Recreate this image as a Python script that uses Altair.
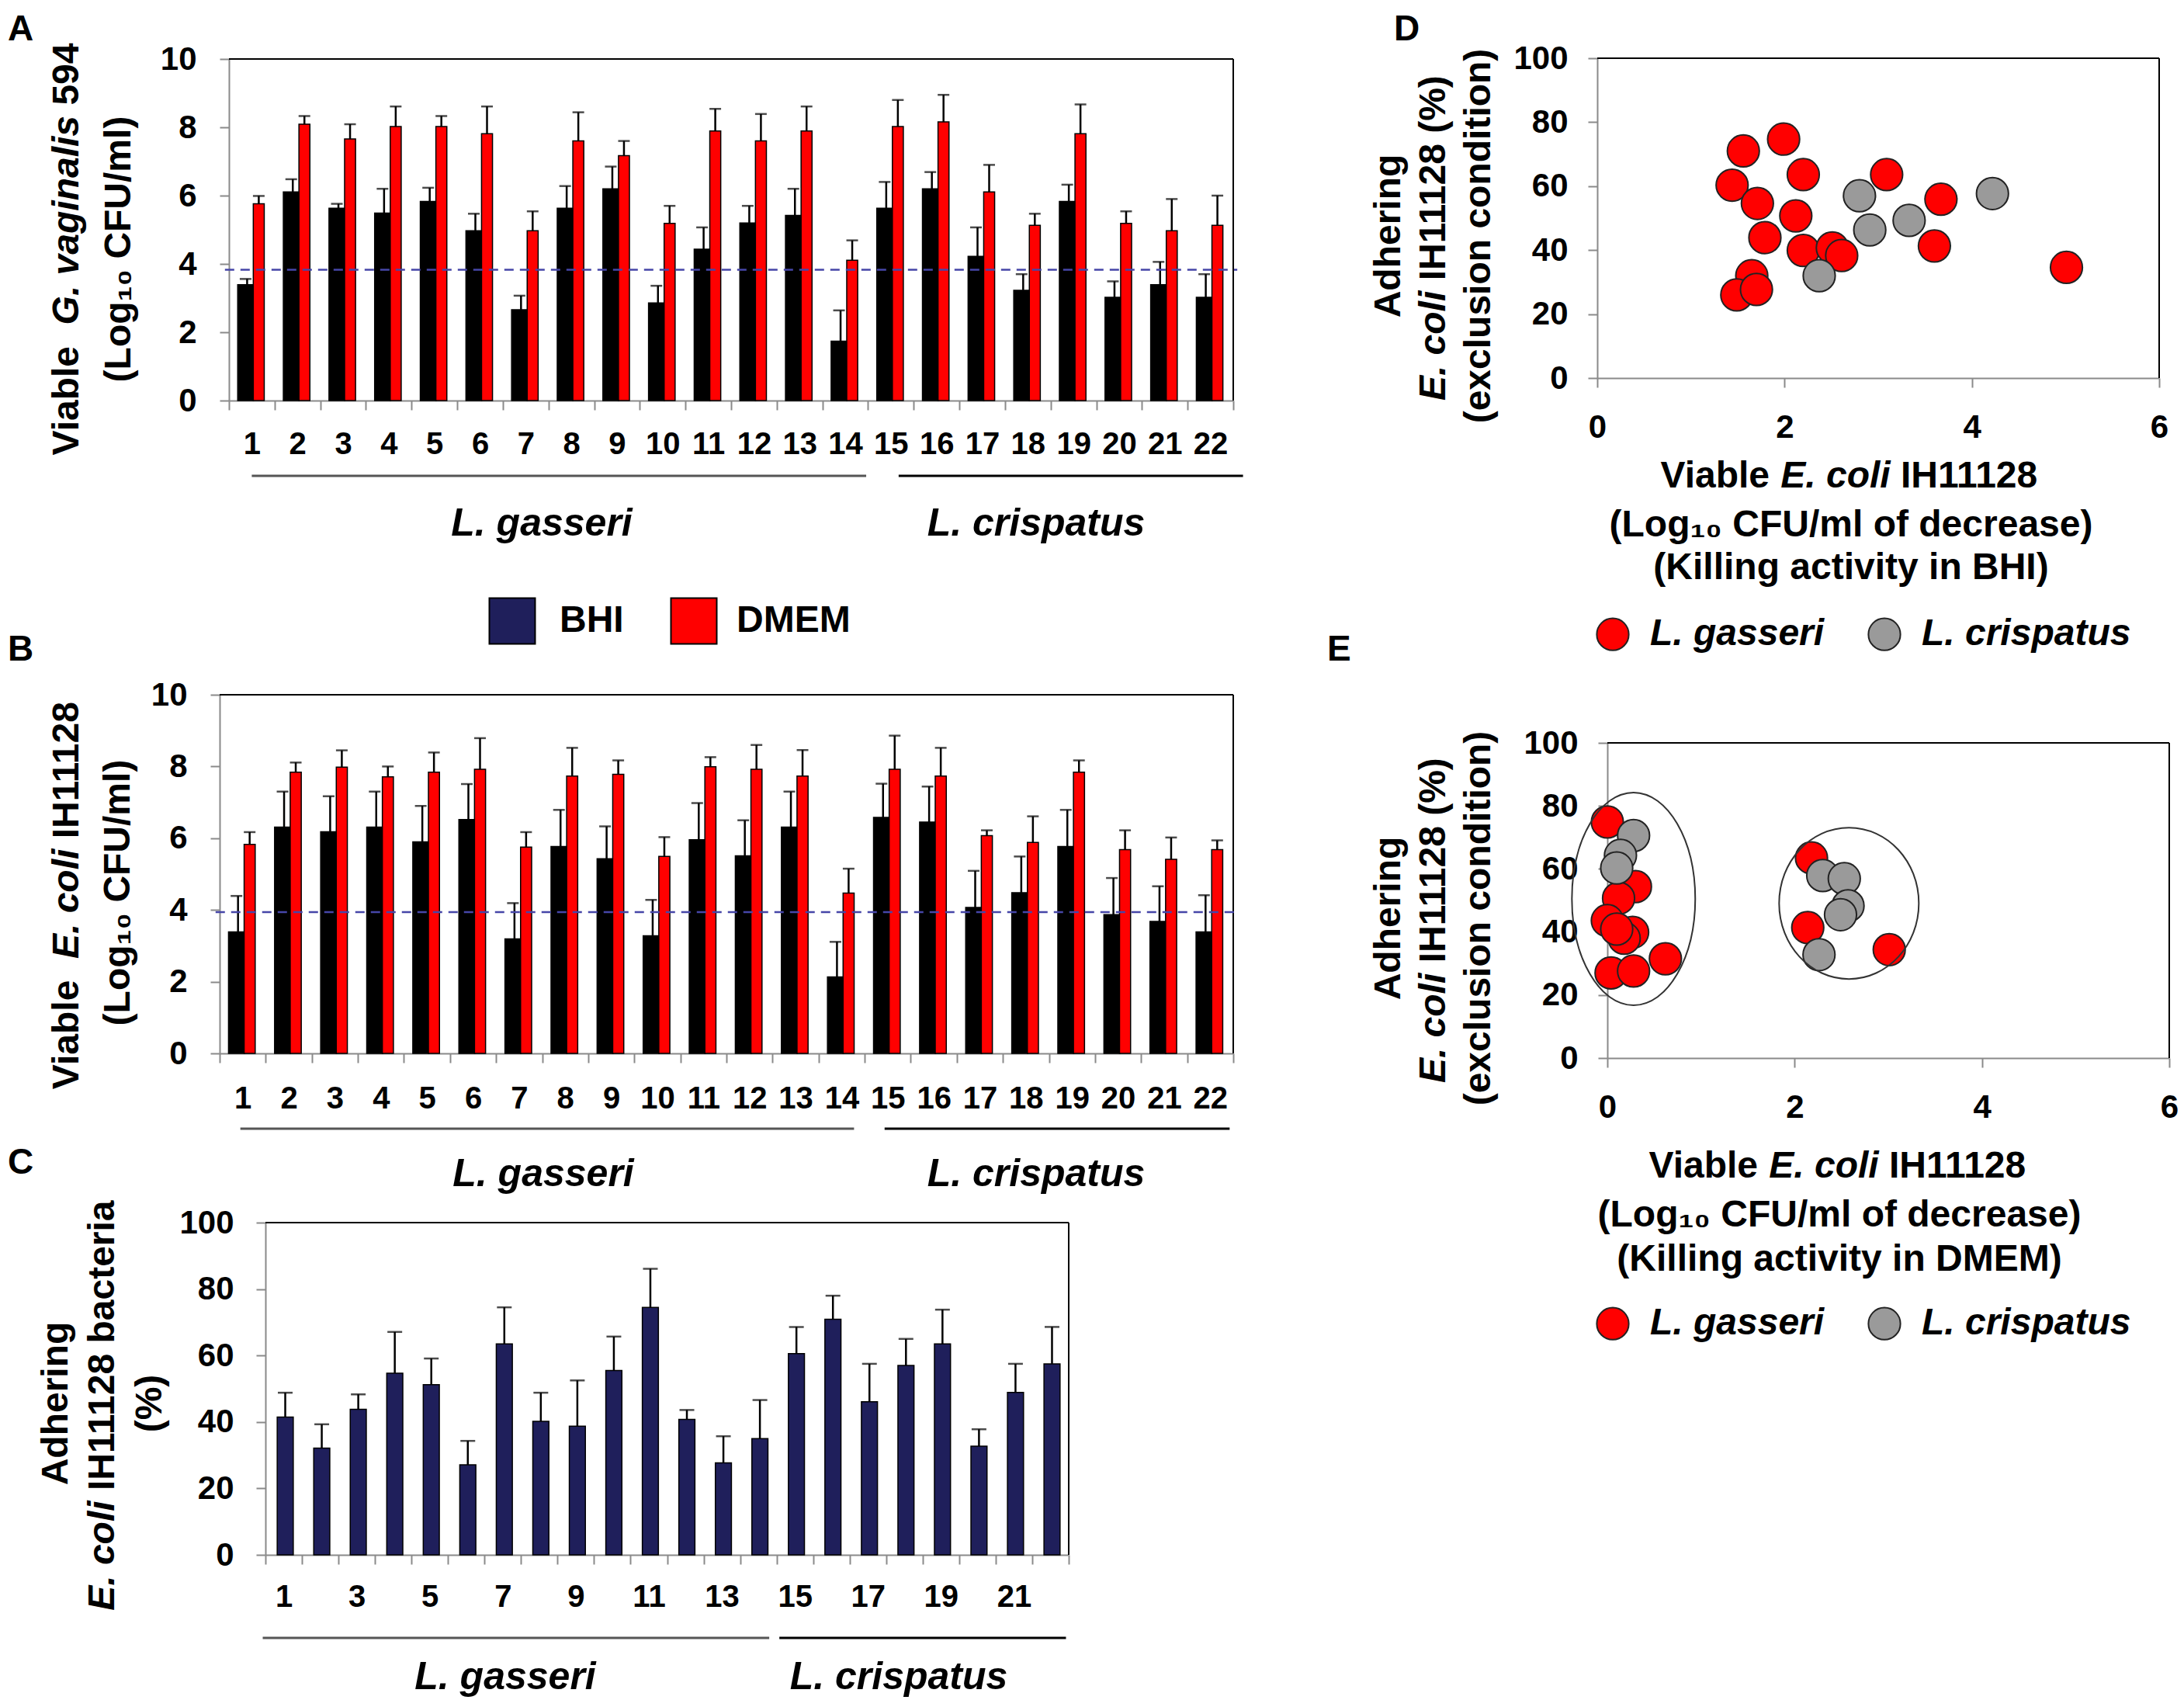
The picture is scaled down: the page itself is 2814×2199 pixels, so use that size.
import altair as alt
import pandas as pd

# ---------------- data ----------------
strains = [str(i) for i in range(1, 23)]

# Panel A: viable G. vaginalis 594 (log10 CFU/ml)
a_bhi = [3.39, 6.11, 5.63, 5.49, 5.83, 4.97, 2.66, 5.63, 6.20, 2.86, 4.43,
         5.20, 5.42, 1.74, 5.63, 6.20, 4.22, 3.23, 5.83, 3.02, 3.39, 3.02]
a_bhi_err = [0.17, 0.37, 0.13, 0.71, 0.40, 0.50, 0.41, 0.65, 0.65, 0.50, 0.64,
             0.50, 0.78, 0.90, 0.77, 0.49, 0.85, 0.47, 0.49, 0.47, 0.67, 0.68]
a_dmem = [5.76, 8.09, 7.66, 8.02, 8.02, 7.81, 4.97, 7.60, 7.17, 5.19, 7.89,
          7.60, 7.89, 4.11, 8.02, 8.16, 6.11, 5.13, 7.81, 5.19, 4.97, 5.13]
a_dmem_err = [0.23, 0.24, 0.43, 0.59, 0.31, 0.80, 0.57, 0.84, 0.43, 0.51, 0.65,
              0.79, 0.72, 0.58, 0.78, 0.79, 0.79, 0.34, 0.86, 0.35, 0.93, 0.87]
a_threshold = 3.83

# Panel B: viable E. coli IH11128 (log10 CFU/ml)
b_bhi = [3.39, 6.31, 6.18, 6.31, 5.90, 6.52, 3.19, 5.77, 5.43, 3.28, 5.96,
         5.51, 6.31, 2.13, 6.58, 6.45, 4.07, 4.48, 5.77, 3.87, 3.68, 3.39]
b_bhi_err = [1.00, 0.99, 0.99, 0.99, 1.00, 0.99, 1.00, 1.02, 0.90, 1.00, 1.02,
             0.99, 0.99, 0.98, 0.94, 0.99, 1.02, 1.01, 1.02, 1.02, 0.98, 1.02]
b_dmem = [5.83, 7.84, 7.98, 7.71, 7.84, 7.92, 5.75, 7.73, 7.78, 5.49, 7.99,
          7.92, 7.73, 4.47, 7.92, 7.73, 6.07, 5.88, 7.84, 5.68, 5.41, 5.68]
b_dmem_err = [0.34, 0.27, 0.47, 0.29, 0.55, 0.87, 0.42, 0.79, 0.39, 0.54, 0.27,
              0.68, 0.73, 0.68, 0.94, 0.79, 0.15, 0.73, 0.33, 0.54, 0.61, 0.26]
b_threshold = 3.94

# Panel C: adhering E. coli IH11128 (%)
c_adh = [41.5, 32.1, 43.8, 54.7, 51.2, 27.1, 63.5, 40.2, 38.7, 55.5, 74.5,
         40.8, 27.7, 35.0, 60.6, 70.9, 46.1, 57.0, 63.5, 32.7, 48.9, 57.5]
c_err = [7.3, 7.2, 4.5, 12.4, 7.9, 7.2, 11.0, 8.6, 13.8, 10.2, 11.6,
         2.8, 8.0, 11.6, 8.0, 7.1, 11.4, 8.0, 10.3, 5.1, 8.6, 11.1]

# Panel D: killing in BHI vs adhesion
d_gas_x = [1.44, 1.56, 1.99, 2.20, 1.71, 2.12, 1.79, 2.20, 2.51, 2.61, 3.09,
           3.67, 3.60, 5.01, 1.65, 1.49, 1.70]
d_gas_y = [60.3, 71.0, 74.7, 63.6, 54.6, 50.7, 43.9, 39.9, 40.7, 38.3, 63.6,
           55.9, 41.3, 34.6, 32.0, 26.0, 27.7]
d_cri_x = [2.80, 2.91, 3.33, 4.22, 2.37]
d_cri_y = [57.0, 46.3, 49.3, 57.7, 32.0]

# Panel E: killing in DMEM vs adhesion
e_gas_x = [0.00, 0.30, 0.12, 0.00, 0.27, 0.18, 0.10, 0.04, 0.28, 0.62, 2.18, 2.14, 3.01]
e_gas_y = [74.9, 54.4, 50.7, 43.6, 39.9, 38.0, 40.9, 27.0, 27.6, 31.5, 63.5, 41.4, 34.4]
e_cri_x = [0.28, 0.14, 0.10, 2.30, 2.53, 2.57, 2.49, 2.26]
e_cri_y = [70.6, 64.3, 60.3, 57.9, 56.9, 48.3, 45.5, 32.8]
e_cluster_x = [0.28, 2.58]
e_cluster_y = [50.5, 49.1]

species = ["L. gasseri", "L. crispatus"]
media = ["BHI", "DMEM"]

# ---------------- style / layout ----------------
W, H = 2798, 2183
FONT = "Liberation Sans"
AXGRAY = "#8a8a8a"
NAVY = "#1f1f5b"
RED = "#ff0000"
GREYPT = "#9a9a9a"
DASH = "#4646a8"
TF = 48   # title font
GF = 50   # group label font

PA = dict(xl=287, xr=1581, yb=508, yt=68)
PB = dict(xl=275, xr=1581, yb=1349, yt=887)
PC = dict(xl=334, xr=1369, yb=1995, yt=1567)
PD = dict(xl=2050, xr=2774, yb=479, yt=67)
PE = dict(xl=2063, xr=2787, yb=1355, yt=949)

ARIAL_B = {" ": 278, "(": 333, ")": 333, "%": 889, ".": 278, "/": 278,
           "A": 722, "B": 722, "C": 722, "D": 722, "E": 667, "F": 611, "G": 778,
           "H": 722, "I": 278, "K": 722, "L": 611, "M": 833, "U": 722, "V": 667,
           "a": 556, "b": 611, "c": 556, "d": 611, "e": 556, "f": 333, "g": 611,
           "h": 611, "i": 278, "k": 556, "l": 278, "m": 889, "n": 611, "o": 611,
           "p": 611, "r": 389, "s": 556, "t": 333, "u": 611, "v": 556, "x": 556,
           "y": 556}


def tw(s, size):
    return sum(ARIAL_B.get(c, 556) for c in s) / 1000.0 * size


def txt(t, x, y, size=TF, italic=False, align="center", angle=0, weight="bold"):
    kw = dict(font=FONT, fontSize=size, fontWeight=weight,
              fontStyle="italic" if italic else "normal",
              align=align, baseline="middle", color="black")
    if angle:
        kw["angle"] = angle
    return alt.Chart(pd.DataFrame({"t": [t]})).mark_text(**kw).encode(
        x=alt.value(x), y=alt.value(y), text="t:N")


def mixed(segs, cx, cy, size=TF, vertical=False):
    widths = [tw(s, size) for s, _ in segs]
    total = sum(widths)
    out = []
    pos = (cy + total / 2) if vertical else (cx - total / 2)
    for (s, it), w in zip(segs, widths):
        if it is not None:
            if vertical:
                out.append(txt(s, cx, pos, size, it, "left", 270))
            else:
                out.append(txt(s, pos, cy, size, it, "left"))
        pos = pos - w if vertical else pos + w
    return out


SP = (" ", None)
ONE = pd.DataFrame({"k": [0]})


def y_axis(p, values, pad, fs=42):
    return alt.Axis(orient="left", offset=-p["xl"], values=values, title=None, grid=False,
                    domainColor=AXGRAY, domainWidth=2, tickColor=AXGRAY, tickWidth=2,
                    tickSize=12, labelFont=FONT, labelFontSize=fs, labelFontWeight="bold",
                    labelColor="black", labelPadding=pad)


def x_axis_band(p, pad, label_expr=None):
    kw = dict(orient="bottom", offset=p["yb"] - H, title=None, grid=False,
              domainColor=AXGRAY, domainWidth=2, tickColor=AXGRAY, tickWidth=2,
              tickSize=12, tickBand="extent", labelAngle=0, labelOverlap=False,
              labelFont=FONT, labelFontSize=40, labelFontWeight="bold",
              labelColor="black", labelPadding=pad)
    if label_expr:
        kw["labelExpr"] = label_expr
    return alt.Axis(**kw)


def band(p):
    return alt.Scale(domain=strains, range=[p["xl"], p["xr"]], paddingInner=0, paddingOuter=0)


def lin(p, top, horizontal=False):
    if horizontal:
        return alt.Scale(domain=[0, top], range=[p["xl"], p["xr"]], nice=False)
    return alt.Scale(domain=[0, top], range=[p["yb"], p["yt"]], nice=False)


def frame(p, ymax, thr=None):
    fx = lin(p, 1, horizontal=True)
    fy = lin(p, ymax)
    out = [
        alt.Chart(ONE).mark_rule(color="black", strokeWidth=2).encode(
            x=alt.XDatum(0, type="quantitative", scale=fx, axis=None),
            x2=alt.X2Datum(1),
            y=alt.YDatum(ymax, type="quantitative", scale=fy, axis=None)),
        alt.Chart(ONE).mark_rule(color="black", strokeWidth=2).encode(
            x=alt.XDatum(1, type="quantitative", scale=fx, axis=None),
            y=alt.YDatum(0, type="quantitative", scale=fy, axis=None),
            y2=alt.Y2Datum(ymax)),
    ]
    if thr is not None:
        out.append(alt.Chart(ONE).mark_rule(color=DASH, strokeWidth=2.6, strokeDash=[12, 8]).encode(
            x=alt.XDatum(-0.004, type="quantitative", scale=fx, axis=None),
            x2=alt.X2Datum(1.004),
            y=alt.YDatum(thr, type="quantitative", scale=fy, axis=None)))
    return out


def brackets(p, y, g_off, c_off):
    xs = band(p)
    out = []
    for (a, b), (o1, o2), col in [(("1", "14"), g_off, "#555555"), (("15", "22"), c_off, "black")]:
        out.append(alt.Chart(ONE).mark_rule(color=col, strokeWidth=3, xOffset=o1, x2Offset=o2).encode(
            x=alt.XDatum(a, type="nominal", scale=xs, axis=None),
            x2=alt.X2Datum(b),
            y=alt.value(y)))
    return out


def bar_panel(p, bhi, bhi_err, dmem, dmem_err, thr, xpad, ypad):
    df = pd.DataFrame({"strain": strains, "bhi": bhi,
                       "bhi_hi": [v + e for v, e in zip(bhi, bhi_err)],
                       "dmem": dmem,
                       "dmem_hi": [v + e for v, e in zip(dmem, dmem_err)]})
    xs = band(p)
    ys = lin(p, 10)
    base = alt.Chart(df)
    X = lambda ax=None: alt.X("strain:N", scale=xs, axis=ax)
    layers = [
        base.mark_bar(color="black", stroke="black", strokeWidth=1.5,
                      width=alt.RelativeBandSize(0.345), xOffset=-8).encode(
            x=X(x_axis_band(p, xpad)),
            y=alt.Y("bhi:Q", scale=ys, axis=y_axis(p, [0, 2, 4, 6, 8, 10], ypad))),
        base.mark_rule(color="black", strokeWidth=2.5, xOffset=-6).encode(
            x=X(), y=alt.Y("bhi:Q", scale=ys, axis=None), y2="bhi_hi:Q"),
        base.mark_tick(color="black", orient="horizontal", size=15, thickness=2.5, xOffset=-8).encode(
            x=X(), y=alt.Y("bhi_hi:Q", scale=ys, axis=None)),
        base.mark_rule(color="black", strokeWidth=2.5, xOffset=9).encode(
            x=X(), y=alt.Y("dmem:Q", scale=ys, axis=None), y2="dmem_hi:Q"),
        base.mark_tick(color="black", orient="horizontal", size=15, thickness=2.5, xOffset=9).encode(
            x=X(), y=alt.Y("dmem_hi:Q", scale=ys, axis=None)),
        base.mark_bar(color=RED, stroke="black", strokeWidth=1.5,
                      width=alt.RelativeBandSize(0.24), xOffset=9).encode(
            x=X(), y=alt.Y("dmem:Q", scale=ys, axis=None)),
    ]
    return layers + frame(p, 10, thr)


def c_panel(p):
    df = pd.DataFrame({"strain": strains, "adh": c_adh,
                       "hi": [v + e for v, e in zip(c_adh, c_err)]})
    xs = band(p)
    ys = lin(p, 100)
    base = alt.Chart(df)
    X = lambda ax=None: alt.X("strain:N", scale=xs, axis=ax)
    layers = [
        base.mark_rule(color="black", strokeWidth=2.5, xOffset=2).encode(
            x=X(), y=alt.Y("adh:Q", scale=ys, axis=None), y2="hi:Q"),
        base.mark_tick(color="black", orient="horizontal", size=19, thickness=2.5, xOffset=2).encode(
            x=X(), y=alt.Y("hi:Q", scale=ys, axis=None)),
        base.mark_bar(color=NAVY, stroke="black", strokeWidth=1.5,
                      width=alt.RelativeBandSize(0.44), xOffset=2).encode(
            x=X(x_axis_band(p, 22, "toNumber(datum.value) % 2 == 1 ? datum.label : ''")),
            y=alt.Y("adh:Q", scale=ys, axis=y_axis(p, [0, 20, 40, 60, 80, 100], 29))),
    ]
    return layers + frame(p, 100)


def scatter_panel(p, gx, gy, cx, cy, legx, legy):
    df = pd.DataFrame({"x": gx + cx, "y": gy + cy,
                       "sp": [species[0]] * len(gx) + [species[1]] * len(cx)})
    xs = lin(p, 6, horizontal=True)
    ys = lin(p, 100)
    xax = alt.Axis(orient="bottom", offset=p["yb"] - H, values=[0, 2, 4, 6], title=None,
                   grid=False, domainColor=AXGRAY, domainWidth=2, tickColor=AXGRAY,
                   tickWidth=2, tickSize=12, labelFlush=False, labelOverlap=False,
                   labelFont=FONT, labelFontSize=42, labelFontWeight="bold",
                   labelColor="black", labelPadding=31)
    yax = y_axis(p, [0, 20, 40, 60, 80, 100], 26)
    leg = alt.Legend(orient="none", legendX=legx, legendY=legy, direction="horizontal",
                     title=None, symbolType="circle", symbolSize=1700,
                     symbolStrokeColor="#222222", symbolStrokeWidth=2, symbolOpacity=1,
                     labelFont=FONT, labelFontSize=TF, labelFontWeight="bold",
                     labelFontStyle="italic", labelColor="black", labelOffset=24,
                     columnPadding=52, padding=0, labelLimit=0)
    pts = alt.Chart(df).mark_circle(size=1700, opacity=1, stroke="#222222", strokeWidth=2).encode(
        x=alt.X("x:Q", scale=xs, axis=xax),
        y=alt.Y("y:Q", scale=ys, axis=yax),
        color=alt.Color("sp:N", scale=alt.Scale(domain=species, range=[RED, GREYPT]), legend=leg))
    return [pts] + frame(p, 100)


def ellipse_path(a, b):
    k = 0.5523
    return (f"M {a} 0 C {a} {k*b:.4f} {k*a:.4f} {b} 0 {b} C {-k*a:.4f} {b} {-a} {k*b:.4f} {-a} 0 "
            f"C {-a} {-k*b:.4f} {-k*a:.4f} {-b} 0 {-b} C {k*a:.4f} {-b} {a} {-k*b:.4f} {a} 0 Z")


def ellipses(p):
    xs = lin(p, 6, horizontal=True)
    ys = lin(p, 100)
    out = []
    for i, (a, size) in enumerate([(0.58, 75076), (0.923, 38025)]):
        d = pd.DataFrame({"x": [e_cluster_x[i]], "y": [e_cluster_y[i]]})
        out.append(alt.Chart(d).mark_point(shape=ellipse_path(a, 1), size=size, filled=False,
                                           color="#333333", strokeWidth=2, opacity=1).encode(
            x=alt.X("x:Q", scale=xs, axis=None), y=alt.Y("y:Q", scale=ys, axis=None)))
    return out


layers = []
# Panel A
layers += bar_panel(PA, a_bhi, a_bhi_err, a_dmem, a_dmem_err, a_threshold, 24, 30)
layers += brackets(PA, 605, (0, 27), (10, 42))
layers += mixed([("Viable", False), SP, SP, ("G. vaginalis", True), SP, ("594", False)], 79, 313, TF, True)
layers.append(txt("(Log\u2081\u2080 CFU/ml)", 146, 313, TF, angle=270))
layers += [txt("L. gasseri", 690, 667, GF, True), txt("L. crispatus", 1327, 667, GF, True)]

# Legend BHI / DMEM
for lab, col, sx, tx in [(media[0], NAVY, 652, 713), (media[1], RED, 886, 941)]:
    layers.append(alt.Chart(ONE).mark_square(size=3481, color=col, stroke="black", strokeWidth=2,
                                             opacity=1).encode(x=alt.value(sx), y=alt.value(792)))
    layers.append(txt(lab, tx, 792, TF, align="left"))

# Panel B
layers += bar_panel(PB, b_bhi, b_bhi_err, b_dmem, b_dmem_err, b_threshold, 26, 30)
layers += brackets(PB, 1446, (-3, 16), (-4, 25))
layers += mixed([("Viable", False), SP, SP, ("E. coli", True), SP, ("IH11128", False)], 79, 1143, TF, True)
layers.append(txt("(Log\u2081\u2080 CFU/ml)", 145, 1142, TF, angle=270))
layers += [txt("L. gasseri", 692, 1505, GF, True), txt("L. crispatus", 1327, 1505, GF, True)]

# Panel C
layers += c_panel(PC)
layers += brackets(PC, 2102, (-27, 14), (-20, 20))
layers.append(txt("Adhering", 65, 1800, TF, angle=270))
layers += mixed([("E. coli", True), SP, ("IH11128 bacteria", False)], 125, 1800, TF, True)
layers.append(txt("(%)", 186, 1800, TF, angle=270))
layers += [txt("L. gasseri", 643, 2153, GF, True), txt("L. crispatus", 1150, 2153, GF, True)]

# Panel D
layers += scatter_panel(PD, d_gas_x, d_gas_y, d_cri_x, d_cri_y, 2046, 785)
layers.append(txt("Adhering", 1782, 296, TF, angle=270))
layers += mixed([("E. coli", True), SP, ("IH11128 (%)", False)], 1840, 296, TF, True)
layers.append(txt("(exclusion condition)", 1898, 296, TF, angle=270))
layers += mixed([("Viable", False), SP, ("E. coli", True), SP, ("IH11128", False)], 2377, 606, TF)
layers.append(txt("(Log\u2081\u2080 CFU/ml of decrease)", 2377, 669, TF))
layers.append(txt("(Killing activity in BHI)", 2377, 724, TF))

# Panel E
layers += scatter_panel(PE, e_gas_x, e_gas_y, e_cri_x, e_cri_y, 2046, 1673)
layers += ellipses(PE)
layers.append(txt("Adhering", 1782, 1175, TF, angle=270))
layers += mixed([("E. coli", True), SP, ("IH11128 (%)", False)], 1840, 1175, TF, True)
layers.append(txt("(exclusion condition)", 1898, 1175, TF, angle=270))
layers += mixed([("Viable", False), SP, ("E. coli", True), SP, ("IH11128", False)], 2362, 1495, TF)
layers.append(txt("(Log\u2081\u2080 CFU/ml of decrease)", 2362, 1558, TF))
layers.append(txt("(Killing activity in DMEM)", 2362, 1615, TF))

# Panel letters
for lab, x, y in [("A", 2, 30), ("B", 2, 829), ("C", 2, 1490), ("D", 1788, 30), ("E", 1702, 829)]:
    layers.append(txt(lab, x, y, 46, align="left"))

chart = alt.layer(*layers).resolve_scale(
    x="independent", y="independent", color="independent"
).properties(
    width=W, height=H, padding=0,
    autosize=alt.AutoSizeParams(type="none"),
    background="white",
).configure_view(stroke=None)

chart.save("out.html", embed_options={"renderer": "svg", "actions": False})
